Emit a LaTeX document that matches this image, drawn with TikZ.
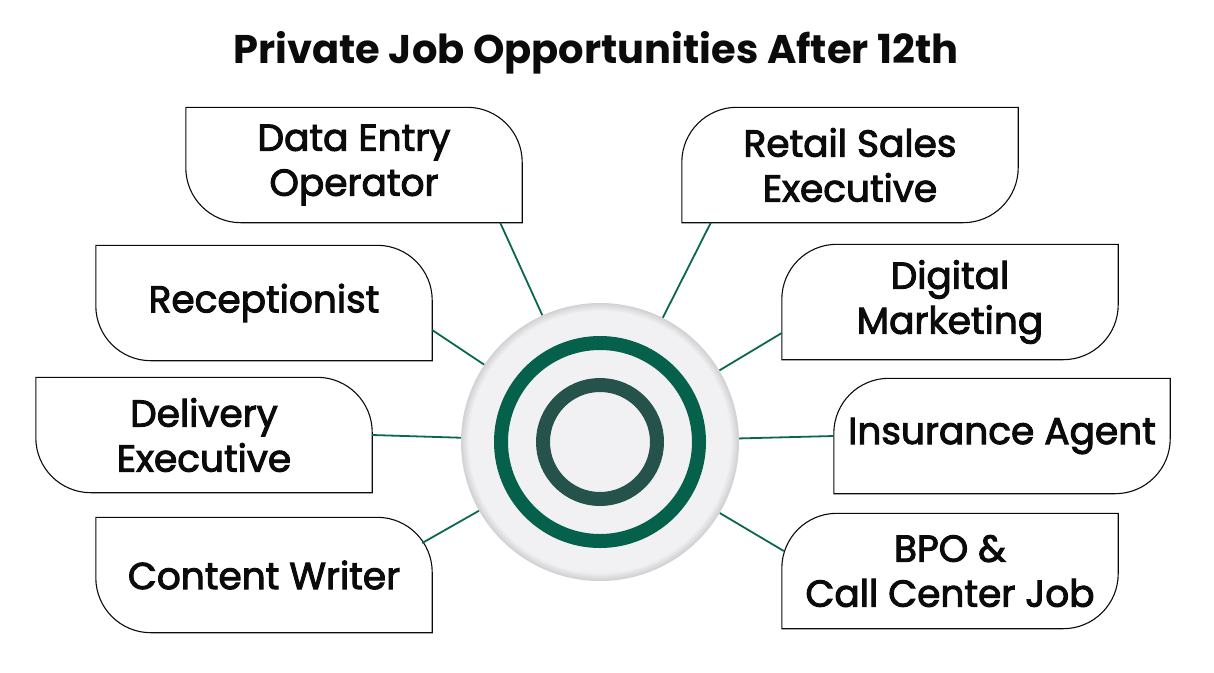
\documentclass[tikz,border=0pt]{standalone}
\usepackage{fontspec}
\setmainfont{Poppins}
\newfontfamily\jobfont{Poppins}[FakeBold=2.6]
\definecolor{ringgreen}{HTML}{05614B}
\definecolor{ringslate}{HTML}{25524A}
\definecolor{linkgreen}{HTML}{0B6652}
\definecolor{discfill}{HTML}{F1F1F3}
\definecolor{discedge}{HTML}{C4C4C6}
\definecolor{ink1}{HTML}{0B0B0B}

\begin{document}
\begin{tikzpicture}[
  x=1pt, y=1pt,
  head/.style={font=\bfseries\fontsize{40}{48}\selectfont, text=ink1},
  job/.style={minimum width=336pt, minimum height=115pt, inner sep=0pt,
              align=center, text=ink1, font=\jobfont\fontsize{37.5}{45}\selectfont},
  hubnode/.style={circle, minimum size=278pt, inner sep=0pt},
  edge/.style={draw=ink1, line width=1.1pt},
  link/.style={draw=linkgreen, line width=1.8pt}
]
\def\rr{55}
\fill[white] (0,0) rectangle (1214,-672);
\useasboundingbox (0,0) rectangle (1214,-672);

% ===== title =====
\node[head, anchor=base] (title) at (596,-63) {Private Job Opportunities After 12th};

% ===== job boxes =====
\node[job] (dataentry) at (354,-165) {Data Entry\\Operator};
\node[job] (recep)     at (264,-303) {Receptionist};
\node[job] (delivery)  at (204,-435) {Delivery\\Executive};
\node[job] (content)   at (264,-575) {Content Writer};
\node[job] (retail)    at (850,-165) {Retail Sales\\Executive};
\node[job] (digital)   at (950,-302) {Digital\\Marketing};
\node[job] (insurance) at (1002,-436) {Insurance Agent};
\node[job] (bpo)       at (950,-571) {BPO \&\\Call Center Job};

% left side: round top-right and bottom-left
\foreach \n in {dataentry,recep,delivery,content} {
  \draw[edge] (\n.north west) -- ([xshift=-\rr]\n.north east)
    arc[start angle=90, end angle=0, radius=\rr] -- (\n.south east)
    -- ([xshift=\rr]\n.south west) arc[start angle=270, end angle=180, radius=\rr]
    -- cycle;
}
% right side: round top-left and bottom-right
\foreach \n in {retail,digital,insurance,bpo} {
  \draw[edge] (\n.south west) -- ([yshift=-\rr]\n.north west)
    arc[start angle=180, end angle=90, radius=\rr] -- (\n.north east)
    -- ([yshift=\rr]\n.south east) arc[start angle=0, end angle=-90, radius=\rr]
    -- cycle;
}

% ===== hub =====
\node[hubnode] (hub) at (600,-442) {};
\draw[link] ([xshift=-22]dataentry.south east) -- (hub);
\draw[link] ([yshift=-27]recep.east) -- (hub);
\draw[link] (delivery.east) -- (hub);
\draw[link] ([shift={(-10,32)}]content.east) -- (hub);
\draw[link] ([xshift=29]retail.south west) -- (hub);
\draw[link] ([yshift=-31]digital.west) -- (hub);
\draw[link] (insurance.west) -- (hub);
\draw[link] ([shift={(2,20)}]bpo.west) -- (hub);

\foreach \k in {0,...,7} {
  \pgfmathsetmacro{\sh}{int(70-\k*9)}
  \fill[discedge!\sh!discfill] (hub.center) circle[radius=139-\k];
}
\fill[discfill] (hub.center) circle[radius=131];
\draw[ringgreen, line width=14pt] (hub.center) circle[radius=99];
\draw[ringslate, line width=14pt] (hub.center) circle[radius=57];
\end{tikzpicture}
\end{document}
